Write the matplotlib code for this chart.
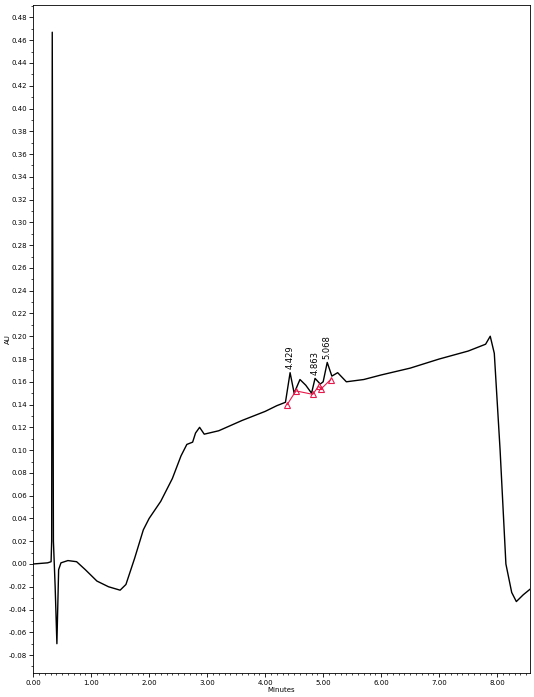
import matplotlib
matplotlib.use("Agg")
import matplotlib.pyplot as plt
import numpy as np
from matplotlib.ticker import MultipleLocator

t = [0,0.25,0.31,0.32,0.33,0.35,0.38,0.41,0.44,0.48,0.6,0.75,0.9,1.1,1.3,1.5,1.6,1.75,1.9,2.0,2.2,2.4,2.55,2.65,2.75,2.8,2.87,2.95,3.2,3.6,4.0,4.2,4.35,4.43,4.5,4.6,4.7,4.8,4.86,4.95,5.0,5.07,5.15,5.25,5.4,5.7,6.0,6.5,7.0,7.5,7.8,7.88,7.95,8.05,8.15,8.25,8.33,8.45,8.57]
au = [0.0,0.001,0.002,0.02,0.467,0.02,-0.02,-0.070,-0.005,0.001,0.003,0.002,-0.005,-0.015,-0.020,-0.023,-0.018,0.005,0.030,0.040,0.055,0.075,0.095,0.105,0.107,0.115,0.120,0.114,0.117,0.126,0.134,0.139,0.142,0.168,0.150,0.162,0.157,0.150,0.163,0.158,0.160,0.177,0.165,0.168,0.160,0.162,0.166,0.172,0.180,0.187,0.193,0.200,0.185,0.100,0.000,-0.025,-0.033,-0.027,-0.022]
tri_t = [4.38,4.53,4.82,4.92,4.97,5.13]
tri_au = [0.140,0.152,0.149,0.156,0.154,0.162]
peak_t = [4.429,4.863,5.068]
peak_au = [0.168,0.163,0.177]
peak_lbl = ["4.429","4.863","5.068"]

fig = plt.figure(figsize=(5.34,6.97), dpi=100)
ax = fig.add_axes([0.062,0.034,0.931,0.959])
ax.plot(t, au, color='black', lw=1.0)
ax.plot(tri_t, tri_au, color='#e8194a', lw=0.8)
ax.plot(tri_t, tri_au, ls='none', marker='^', mfc='none', mec='#e8194a', ms=5, mew=0.8)
for x, y, s in zip(peak_t, peak_au, peak_lbl):
    ax.text(x, y+0.003, s, rotation=90, ha='center', va='bottom', fontsize=6)
ax.set_xlim(0, 8.57)
ax.set_ylim(-0.096, 0.491)
ax.xaxis.set_major_locator(MultipleLocator(1))
ax.xaxis.set_minor_locator(MultipleLocator(0.1))
ax.yaxis.set_major_locator(MultipleLocator(0.02))
ax.yaxis.set_minor_locator(MultipleLocator(0.01))
ax.xaxis.set_major_formatter(plt.FuncFormatter(lambda v, p: f"{v:.2f}"))
ax.yaxis.set_major_formatter(plt.FuncFormatter(lambda v, p: f"{v:.2f}"))
ax.tick_params(labelsize=5, length=3, width=0.6, pad=1.5)
ax.tick_params(which='minor', length=1.5, width=0.5)
ax.set_xlabel("Minutes", fontsize=5, labelpad=1)
ax.set_ylabel("AU", fontsize=5)
ax.yaxis.set_label_coords(-0.045, 0.5)
for s in ax.spines.values():
    s.set_linewidth(0.6)
fig.savefig("out.png", dpi=100)
